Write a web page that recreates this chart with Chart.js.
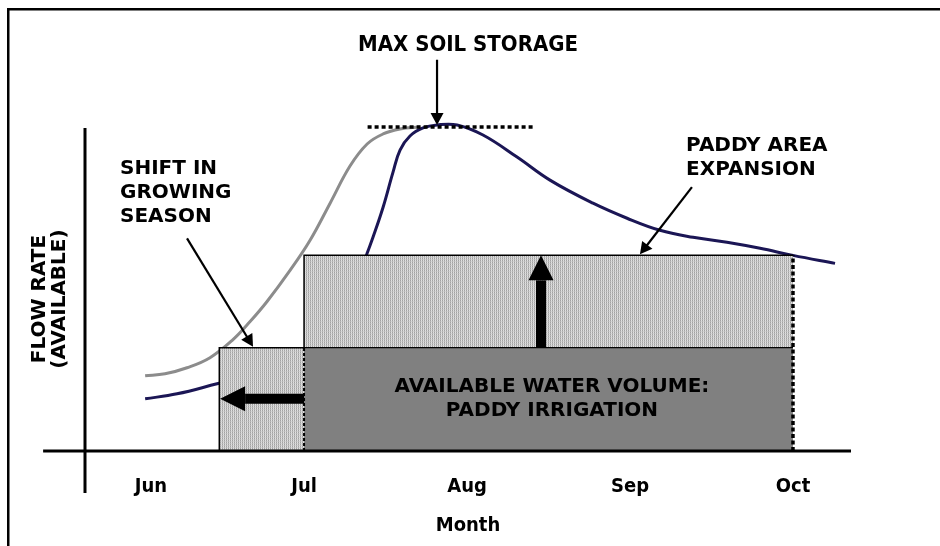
<!DOCTYPE html>
<html>
<head>
<meta charset="utf-8">
<title>Flow rate and paddy irrigation</title>
<script src="https://cdn.jsdelivr.net/npm/chart.js@4.4.1/dist/chart.umd.min.js"></script>
<style>
  html, body { margin: 0; padding: 0; background: #fff; }
  canvas { display: block; }
</style>
</head>
<body>
<canvas id="chart" width="940" height="546"></canvas>
<script>
'use strict';

// x values are months (Jul = 7 ... Oct = 10), y is relative flow rate
var monthValues = [6.06, 7, 8, 9, 10];
var monthLabels = ['Jun', 'Jul', 'Aug', 'Sep', 'Oct'];

// grey curve: flow without soil storage effect
var greyX = [6.025, 6.147, 6.282, 6.423, 6.564, 6.669, 6.773, 6.914, 7.037, 7.160, 7.282, 7.387, 7.485, 7.589, 7.712];
var greyY = [0.75, 0.77, 0.83, 0.93, 1.11, 1.29, 1.49, 1.80, 2.10, 2.47, 2.84, 3.06, 3.16, 3.21, 3.23];

// navy curve: available flow
var navyX = [6.025, 6.221, 6.466, 6.73, 7.0, 7.2, 7.33, 7.387, 7.423, 7.485, 7.546, 7.589, 7.65, 7.73, 7.816,
  7.939, 8.098, 8.307, 8.509, 8.773, 8.982, 9.184, 9.387, 9.595, 9.798, 10.0, 10.258];
var navyY = [0.52, 0.57, 0.67, 0.78, 0.98, 1.3, 1.7, 1.97, 2.13, 2.43, 2.78, 3.00, 3.14, 3.22, 3.25,
  3.25, 3.15, 2.93, 2.70, 2.47, 2.32, 2.20, 2.13, 2.08, 2.02, 1.95, 1.87];

// irrigation season: shifted start, original start; and its end
var seasonStart = [6.48, 7.0];
var seasonEnd = 10.0;
// water volume: current paddy irrigation, expanded paddy area
var volumeLevels = [1.03, 1.95];
// max soil storage level and the stretch of its marker
var maxStorage = 3.23;
var maxStorageSpan = [7.39, 8.41];

function pts(xs, ys) {
  return xs.map(function (x, i) { return { x: x, y: ys[i] }; });
}

// light grey dotted texture used in the reference
function texture() {
  var c = document.createElement('canvas');
  c.width = 2; c.height = 2;
  var g = c.getContext('2d');
  g.fillStyle = '#a2a2a2'; g.fillRect(0, 0, 1, 1);
  g.fillStyle = '#b8b8b8'; g.fillRect(0, 1, 1, 1);
  g.fillStyle = '#e2e2e2'; g.fillRect(1, 0, 1, 1);
  g.fillStyle = '#d2d2d2'; g.fillRect(1, 1, 1, 1);
  return g.createPattern(c, 'repeat');
}

var BOLD = 'bold 20px "DejaVu Sans", Verdana, sans-serif';
var COND = '"DejaVu Sans Condensed", "Liberation Sans Narrow", "DejaVu Sans", sans-serif';

// annotation texts and arrows, anchored in data units
var notes = [
  { lines: ['MAX SOIL STORAGE'], x: 8.006, y: 4.04, align: 'center', font: 'bold 22px ' + COND },
  { lines: ['SHIFT IN', 'GROWING', 'SEASON'], x: 5.871, y: 2.81, align: 'left', font: BOLD },
  { lines: ['PADDY AREA', 'EXPANSION'], x: 9.344, y: 3.04, align: 'left', font: BOLD },
  { lines: ['AVAILABLE WATER VOLUME:', 'PADDY IRRIGATION'], x: 8.521, y: 0.64, align: 'center', font: BOLD }
];
var thinArrows = [
  { from: [7.816, 3.90], to: [7.816, 3.25] },
  { from: [6.282, 2.12], to: [6.687, 1.04] },
  { from: [9.380, 2.63], to: [9.061, 1.96] }
];
var blockArrows = [
  { from: [8.454, 1.03], to: [8.454, 1.95] },
  { from: [7.0, 0.52], to: [6.485, 0.52] }
];

function thinArrow(ctx, x1, y1, x2, y2) {
  var a = Math.atan2(y2 - y1, x2 - x1);
  var hl = 12, hw = 6.5;
  ctx.beginPath();
  ctx.moveTo(x1, y1);
  ctx.lineTo(x2 - Math.cos(a) * hl * 0.8, y2 - Math.sin(a) * hl * 0.8);
  ctx.lineWidth = 2.2;
  ctx.stroke();
  ctx.beginPath();
  ctx.moveTo(x2, y2);
  ctx.lineTo(x2 - Math.cos(a) * hl - Math.sin(a) * hw, y2 - Math.sin(a) * hl + Math.cos(a) * hw);
  ctx.lineTo(x2 - Math.cos(a) * hl + Math.sin(a) * hw, y2 - Math.sin(a) * hl - Math.cos(a) * hw);
  ctx.closePath();
  ctx.fill();
}

function blockArrow(ctx, x1, y1, x2, y2) {
  var a = Math.atan2(y2 - y1, x2 - x1);
  var hl = 25, hw = 12.5;
  ctx.beginPath();
  ctx.moveTo(x1, y1);
  ctx.lineTo(x2 - Math.cos(a) * hl, y2 - Math.sin(a) * hl);
  ctx.lineWidth = 10;
  ctx.stroke();
  ctx.beginPath();
  ctx.moveTo(x2, y2);
  ctx.lineTo(x2 - Math.cos(a) * hl - Math.sin(a) * hw, y2 - Math.sin(a) * hl + Math.cos(a) * hw);
  ctx.lineTo(x2 - Math.cos(a) * hl + Math.sin(a) * hw, y2 - Math.sin(a) * hl - Math.cos(a) * hw);
  ctx.closePath();
  ctx.fill();
}

var decor = {
  id: 'decor',
  beforeDraw: function (chart) {
    var ctx = chart.ctx;
    ctx.save();
    ctx.fillStyle = '#000';
    ctx.fillRect(7, 8, chart.width - 7, 2.5);
    ctx.fillRect(7, 8, 2.5, chart.height - 8);
    ctx.restore();
  },
  afterDraw: function (chart) {
    var ctx = chart.ctx;
    var sx = chart.scales.x, sy = chart.scales.y;
    function px(v) { return sx.getPixelForValue(v); }
    function py(v) { return sy.getPixelForValue(v); }
    ctx.save();
    ctx.strokeStyle = '#000';
    ctx.fillStyle = '#000';
    ctx.lineCap = 'butt';

    // axis lines
    ctx.lineWidth = 3;
    ctx.beginPath();
    ctx.moveTo(px(5.399), py(0));
    ctx.lineTo(px(10.356), py(0));
    ctx.moveTo(px(5.656), py(-0.42));
    ctx.lineTo(px(5.656), py(3.22));
    ctx.stroke();

    thinArrows.forEach(function (a) {
      thinArrow(ctx, px(a.from[0]), py(a.from[1]), px(a.to[0]), py(a.to[1]));
    });
    blockArrows.forEach(function (a) {
      blockArrow(ctx, px(a.from[0]), py(a.from[1]), px(a.to[0]), py(a.to[1]));
    });

    ctx.textBaseline = 'middle';
    notes.forEach(function (n) {
      ctx.font = n.font;
      ctx.textAlign = n.align;
      n.lines.forEach(function (t, i) {
        ctx.fillText(t, px(n.x), py(n.y) + i * 24);
      });
    });
    ctx.restore();
  }
};

var fillTex = texture();
var start = seasonStart, lv = volumeLevels;

new Chart(document.getElementById('chart'), {
  type: 'line',
  data: {
    datasets: [
      { data: pts([seasonEnd, seasonEnd], [0, lv[1]]), borderColor: '#000', borderWidth: 3.5,
        borderDash: [4, 2.5], fill: false, order: 1 },
      { data: pts([start[1], start[1]], [0, lv[0]]), borderColor: '#000', borderWidth: 2,
        borderDash: [3, 2], fill: false, order: 1 },
      { data: pts(maxStorageSpan, [maxStorage, maxStorage]), borderColor: '#000', borderWidth: 3.5,
        borderDash: [4, 3], fill: false, order: 1 },
      // current irrigation volume
      { data: pts([start[1], seasonEnd], [lv[0], lv[0]]), borderColor: '#000', borderWidth: 1.2,
        backgroundColor: '#808080', fill: 'origin', order: 4 },
      // paddy area expansion
      { data: pts([start[1], start[1], seasonEnd], [lv[0], lv[1], lv[1]]), borderColor: '#000', borderWidth: 1.5,
        backgroundColor: fillTex, fill: { value: lv[0] }, order: 5 },
      // growing season shift
      { data: pts([start[0], start[0], start[1]], [0, lv[0], lv[0]]), borderColor: '#000', borderWidth: 1.5,
        backgroundColor: fillTex, fill: 'origin', order: 5 },
      { data: pts(navyX, navyY), borderColor: '#1b1655', borderWidth: 3, fill: false,
        tension: 0.4, order: 10 },
      { data: pts(greyX, greyY), borderColor: '#8c8c8c', borderWidth: 3, fill: false,
        tension: 0.4, order: 11 }
    ]
  },
  options: {
    responsive: false,
    animation: false,
    events: [],
    layout: { padding: { left: 30, right: 89, top: 142, bottom: 8 } },
    elements: { point: { radius: 0 }, line: { tension: 0 } },
    datasets: { line: { clip: false } },
    plugins: { legend: { display: false }, tooltip: { enabled: false } },
    scales: {
      x: {
        type: 'linear', min: 5.656, max: 10.356,
        grid: { display: false }, border: { display: false },
        afterBuildTicks: function (scale) {
          scale.ticks = monthValues.map(function (v) { return { value: v }; });
        },
        ticks: {
          autoSkip: false, maxRotation: 0, padding: 11, color: '#000',
          font: { family: COND, size: 20, weight: 'bold', lineHeight: 1.2 },
          callback: function (v) {
            var i = monthValues.indexOf(v);
            return i >= 0 ? monthLabels[i] : '';
          }
        },
        title: {
          display: true, text: 'Month', color: '#000',
          font: { family: COND, size: 20, weight: 'bold', lineHeight: 1.2 },
          padding: { top: 4, bottom: 0 }
        }
      },
      y: {
        min: -0.05, max: 3.08,
        grid: { display: false }, border: { display: false },
        ticks: { display: false },
        title: {
          display: true, text: ['FLOW RATE', '(AVAILABLE)'], color: '#000',
          font: { family: '"DejaVu Sans", Verdana, sans-serif', size: 20, weight: 'bold', lineHeight: 1.0 },
          padding: { top: 0, bottom: 7 }
        }
      }
    }
  },
  plugins: [decor]
});
</script>
</body>
</html>
